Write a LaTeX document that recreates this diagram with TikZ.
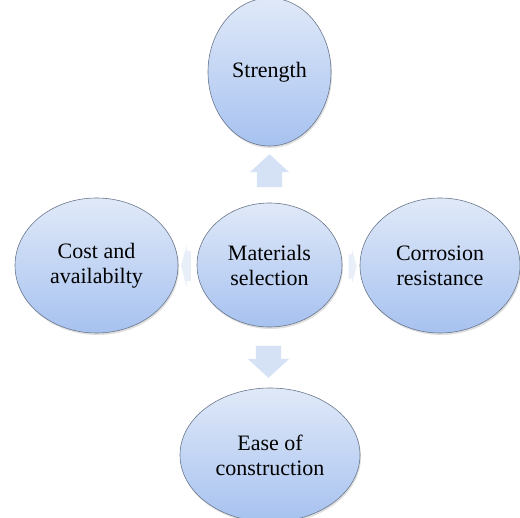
\documentclass[tikz,border=0pt]{standalone}
\usepackage{fontspec}
\setmainfont{Liberation Serif}
\usepackage{tikz}
\usetikzlibrary{shapes.geometric,shapes.arrows,shadows}

\definecolor{bubtop}{HTML}{E0E9F8}
\definecolor{bubbot}{HTML}{A7C2F0}
\definecolor{bubline}{HTML}{6A788C}
\definecolor{arrfill}{HTML}{D5E1F4}

\begin{document}
\begin{tikzpicture}[x=1pt,y=-1pt,
    bubble/.style={ellipse,draw=bubline,line width=0.6pt,top color=bubtop,
      bottom color=bubbot,inner sep=0pt,align=center,
      font=\fontsize{22}{25}\selectfont,
      drop shadow={shadow xshift=1pt,shadow yshift=-2pt,opacity=0.25}},
    blockarrow/.style={single arrow,inner xsep=0pt,draw=none,fill=arrfill}]
  \useasboundingbox (0,0) rectangle (520,518);
  \begin{scope}
    \clip (0,0) rectangle (520,518);
    % the five bubbles
    \node[bubble,minimum width=145,minimum height=124] (mat) at (269.5,265)
         {Materials\\selection};
    \node[bubble,minimum width=123,minimum height=148] (str) at (269.5,72)
         {Strength};
    \node[bubble,minimum width=163,minimum height=135] (cost) at (96.5,265.5)
         {Cost and\\availabilty};
    \node[bubble,minimum width=160,minimum height=135] (corr) at (440,265.5)
         {Corrosion\\resistance};
    \node[bubble,minimum width=180,minimum height=134] (ease) at (270,455)
         {Ease of\\construction};
    % arrows out of the middle
    \node[blockarrow,rotate=90,minimum height=33,inner ysep=12.5pt,
          single arrow head extend=7pt,single arrow tip angle=95] (toStr)
         at (269.5,176.5) {};
    \node[blockarrow,rotate=-90,minimum height=32,inner ysep=12.5pt,
          single arrow head extend=8pt,single arrow tip angle=95] (toEase)
         at (268.5,356) {};
    \node[blockarrow,rotate=180,minimum height=10,inner ysep=15pt,
          single arrow head extend=6pt,single arrow tip angle=150,
          opacity=0.55] (toCost) at (188,266) {};
    \node[blockarrow,minimum height=8,inner ysep=12pt,
          single arrow head extend=4.5pt,single arrow tip angle=150,
          opacity=0.55] (toCorr) at (351,266.5) {};
  \end{scope}
\end{tikzpicture}
\end{document}
